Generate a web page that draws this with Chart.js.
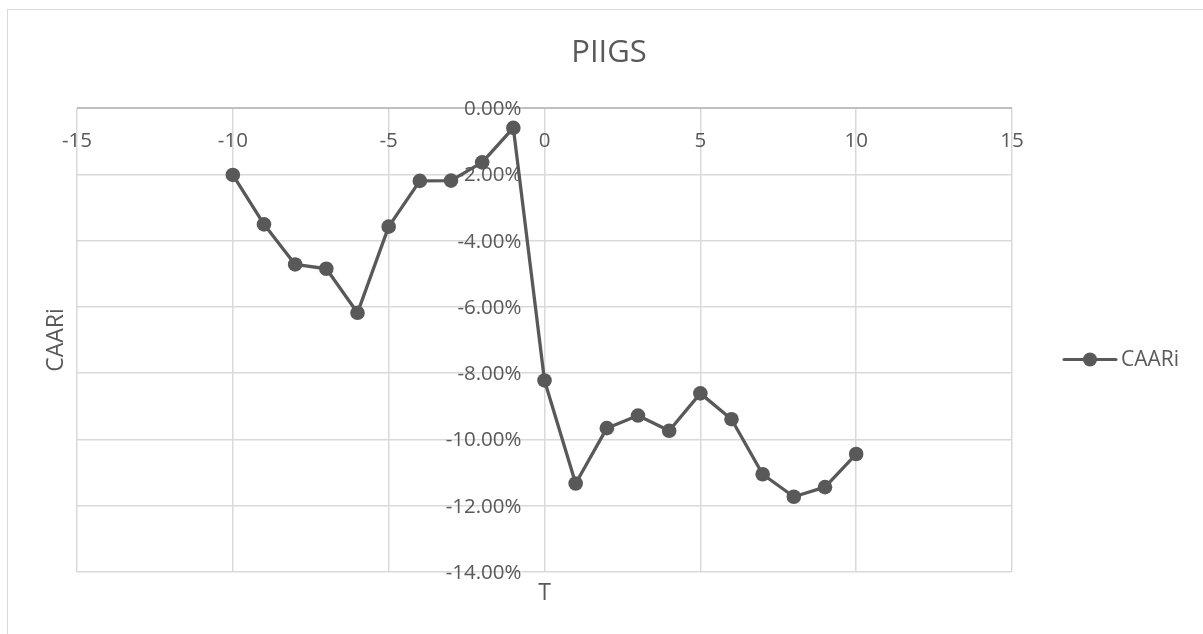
<!DOCTYPE html>
<html>
<head>
<meta charset="utf-8">
<title>PIIGS</title>
<script src="https://cdn.jsdelivr.net/npm/chart.js@4/dist/chart.umd.min.js"></script>
<style>
  html, body { margin: 0; padding: 0; background: #ffffff; }
  #wrap { position: relative; width: 1203px; height: 634px; }
  canvas { display: block; }
</style>
</head>
<body>
<div id="wrap"><canvas id="chart" width="1203" height="634"></canvas></div>
<script>
// Event window (days relative to the event) and cumulative average abnormal returns, in %
const eventDays = [-10, -9, -8, -7, -6, -5, -4, -3, -2, -1, 0, 1, 2, 3, 4, 5, 6, 7, 8, 9, 10];
const caari = [-2.02, -3.51, -4.72, -4.85, -6.18, -3.58, -2.20, -2.19, -1.64, -0.60,
               -8.22, -11.33, -9.66, -9.28, -9.74, -8.61, -9.39, -11.05, -11.73, -11.44, -10.44];

// Axis ranges and tick steps
const xTicks = [-15, -10, -5, 0, 5, 10, 15];
const yTicks = [0, -2, -4, -6, -8, -10, -12, -14];

const chartTitle = 'PIIGS';
const seriesName = 'CAARi';
const xTitle = 'T';
const yTitle = 'CAARi';

const INK = '#595959';
const GRID = '#d9d9d9';
const AXIS = '#bfbfbf';
const FONT = '"Open Sans", "Liberation Sans", sans-serif';

const points = eventDays.map((d, i) => ({ x: d, y: caari[i] }));

// Draws the frame, tick labels, titles and legend around the plot
const decorations = {
  id: 'decorations',
  beforeDraw(chart) {
    const ctx = chart.ctx;
    ctx.save();
    ctx.fillStyle = '#ffffff';
    ctx.fillRect(0, 0, chart.width, chart.height);
    ctx.strokeStyle = GRID;
    ctx.lineWidth = 1;
    ctx.strokeRect(7.5, 9.5, chart.width + 20, chart.height + 20);
    ctx.restore();
  },
  beforeDatasetsDraw(chart) {
    const ctx = chart.ctx;
    const xs = chart.scales.x, ys = chart.scales.y;
    const x0 = xs.getPixelForValue(0);
    const y0 = ys.getPixelForValue(0);
    ctx.save();
    ctx.fillStyle = INK;
    ctx.font = '20.5px ' + FONT;
    // x tick labels hang just under the axis line at 0 %
    ctx.textAlign = 'center';
    ctx.textBaseline = 'alphabetic';
    xs.ticks.forEach(t => {
      ctx.fillText(String(t.value), xs.getPixelForValue(t.value), y0 + 39);
    });
    // y tick labels sit to the left of the T = 0 line
    ctx.textAlign = 'right';
    ys.ticks.forEach(t => {
      ctx.fillText(t.value.toFixed(2) + '%', x0 - 23, ys.getPixelForValue(t.value) + 7);
    });
    ctx.restore();
  },
  afterDraw(chart) {
    const ctx = chart.ctx;
    const area = chart.chartArea;
    const xs = chart.scales.x;
    ctx.save();
    ctx.fillStyle = INK;

    // chart title
    ctx.font = '31px ' + FONT;
    ctx.textAlign = 'center';
    ctx.textBaseline = 'alphabetic';
    ctx.fillText(chartTitle, 609, 62);

    // axis titles
    ctx.font = '23px ' + FONT;
    ctx.fillText(xTitle, xs.getPixelForValue(0), 600);
    ctx.save();
    ctx.translate(63, (area.top + area.bottom) / 2);
    ctx.rotate(-Math.PI / 2);
    ctx.textAlign = 'center';
    ctx.fillText(yTitle, 0, 0);
    ctx.restore();

    // legend: line with marker, then series name
    const ly = 359.5;
    ctx.strokeStyle = INK;
    ctx.lineWidth = 3;
    ctx.lineCap = 'round';
    ctx.beginPath();
    ctx.moveTo(1064, ly);
    ctx.lineTo(1116, ly);
    ctx.stroke();
    ctx.beginPath();
    ctx.arc(1090, ly, 7, 0, Math.PI * 2);
    ctx.fill();
    ctx.font = '21px ' + FONT;
    ctx.textAlign = 'left';
    ctx.textBaseline = 'middle';
    ctx.fillText(seriesName, 1121, ly + 1);
    ctx.restore();
  }
};

new Chart(document.getElementById('chart'), {
  type: 'scatter',
  data: {
    datasets: [{
      label: seriesName,
      data: points,
      showLine: true,
      borderColor: INK,
      backgroundColor: INK,
      borderWidth: 3.3,
      borderJoinStyle: 'round',
      borderCapStyle: 'round',
      tension: 0,
      pointRadius: 7.3,
      pointHoverRadius: 7.3,
      pointBackgroundColor: INK,
      pointBorderColor: INK,
      pointBorderWidth: 0
    }]
  },
  options: {
    responsive: false,
    devicePixelRatio: 1,
    animation: false,
    events: [],
    layout: { padding: { left: 77, right: 191, top: 108, bottom: 62 } },
    plugins: {
      legend: { display: false },
      title: { display: false },
      tooltip: { enabled: false }
    },
    scales: {
      x: {
        type: 'linear',
        position: { y: 0 },
        min: xTicks[0],
        max: xTicks[xTicks.length - 1],
        afterBuildTicks: s => { s.ticks = xTicks.map(v => ({ value: v })); },
        ticks: { display: false },
        border: { display: false },
        grid: { color: GRID, lineWidth: 1.5, drawTicks: false }
      },
      y: {
        type: 'linear',
        position: { x: 0 },
        min: yTicks[yTicks.length - 1],
        max: yTicks[0],
        afterBuildTicks: s => { s.ticks = yTicks.map(v => ({ value: v })); },
        ticks: { display: false },
        border: { display: false },
        grid: {
          color: c => (c.tick && c.tick.value === 0 ? AXIS : GRID),
          lineWidth: c => (c.tick && c.tick.value === 0 ? 2 : 1.5),
          drawTicks: false
        }
      }
    }
  },
  plugins: [decorations]
});
</script>
</body>
</html>
